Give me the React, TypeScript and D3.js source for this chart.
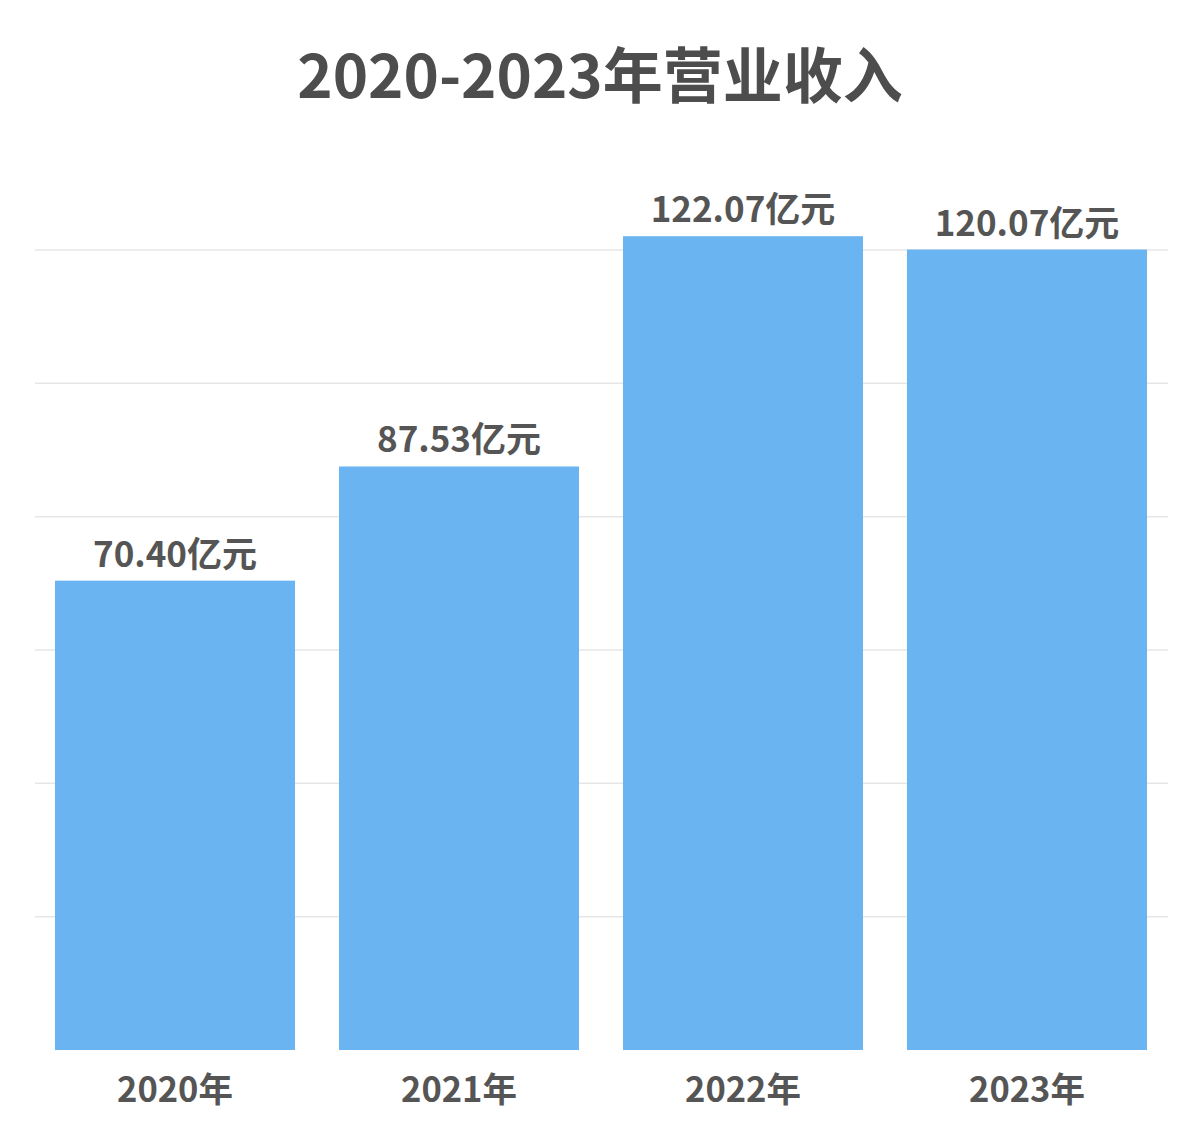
import React from "react";
import * as d3 from "d3";

const categories = ["2020年", "2021年", "2022年", "2023年"];
const values = [70.4, 87.53, 122.07, 120.07];
const valueLabels = ["70.40亿元", "87.53亿元", "122.07亿元", "120.07亿元"];
const gridTicks = [20, 40, 60, 80, 100, 120];
const title = "2020-2023年营业收入";

const W = 1200;
const H = 1140;
const FONT = "'Noto Sans CJK SC', 'Noto Sans', sans-serif";

export default function App() {
  const x = d3
    .scaleBand<string>()
    .domain(categories)
    .range([33, 1169])
    .paddingInner(0.155)
    .paddingOuter(0.0775);
  const y = d3.scaleLinear().domain([0, 120]).range([1050, 250]);

  return (
    <svg
      width={W}
      height={H}
      style={{ position: "absolute", left: 0, top: 0, background: "#fff" }}
      fontFamily={FONT}
    >
      <text
        x={600}
        y={98}
        textAnchor="middle"
        fontSize={60}
        fontWeight="bold"
        fill="#4d4d4d"
      >
        {title}
      </text>
      {gridTicks.map((t) => (
        <line
          key={t}
          x1={35}
          x2={1168}
          y1={y(t)}
          y2={y(t)}
          stroke="#e6e6e6"
          strokeWidth={1.5}
        />
      ))}
      {categories.map((c, i) => (
        <g key={c}>
          <rect
            x={x(c)}
            y={y(values[i])}
            width={x.bandwidth()}
            height={y(0) - y(values[i])}
            fill="#6ab4f2"
          />
          <text
            x={(x(c) as number) + x.bandwidth() / 2}
            y={y(values[i]) - 14}
            textAnchor="middle"
            fontSize={35}
            fontWeight="bold"
            fill="#555"
          >
            {valueLabels[i]}
          </text>
          <text
            x={(x(c) as number) + x.bandwidth() / 2}
            y={1102}
            textAnchor="middle"
            fontSize={34.5}
            fontWeight="bold"
            fill="#555"
          >
            {c}
          </text>
        </g>
      ))}
    </svg>
  );
}
